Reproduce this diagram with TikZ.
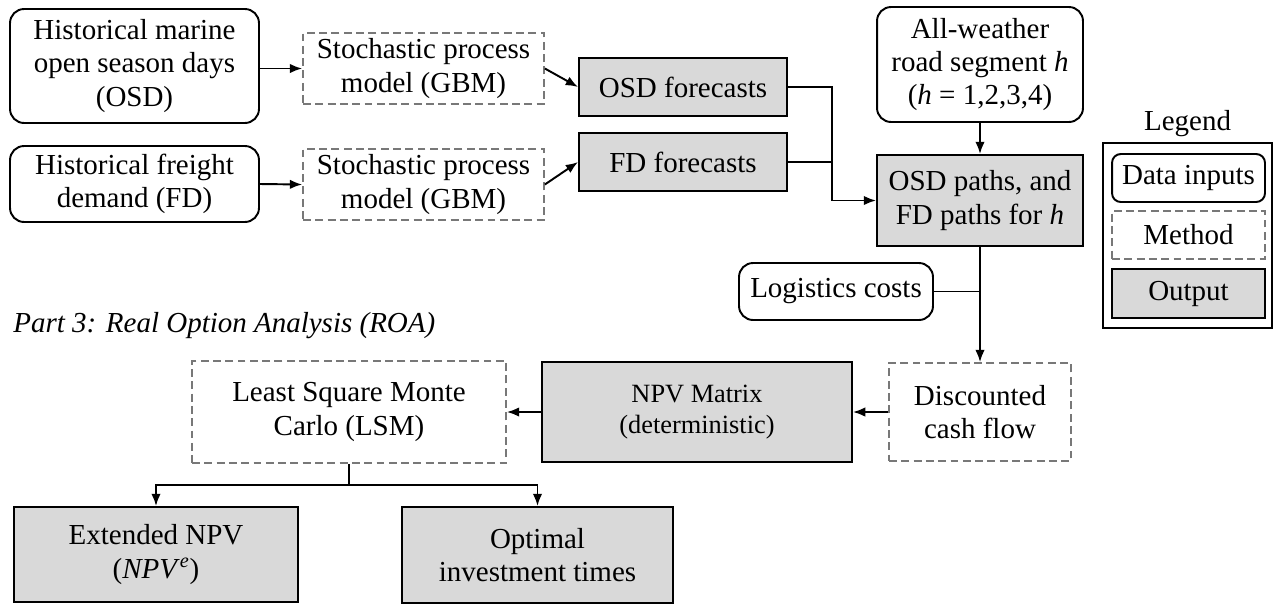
\documentclass[tikz,border=0pt]{standalone}
\usepackage{fontspec}
\setmainfont{Liberation Serif}
\usepackage{tikz}
\usetikzlibrary{arrows.meta,positioning}
\definecolor{cOut}{RGB}{217,217,217}
\definecolor{cMeth}{RGB}{120,120,120}
\newcommand{\bodyfont}{\fontsize{16.5}{19}\selectfont}

\begin{document}
\begin{tikzpicture}[x=0.02cm,y=-0.02cm,
  >={Latex[length=7pt,width=5.4pt]},
  every node/.style={font=\bodyfont,align=center,inner sep=0pt},
  inbox/.style={draw,line width=1.1pt,rounded corners=8pt},
  methbox/.style={draw=cMeth,line width=1pt,dash pattern=on 4.5pt off 2.5pt},
  outbox/.style={draw,line width=1.1pt,fill=cOut},
  link/.style={line width=1.1pt}]
  \useasboundingbox (0,0) rectangle (1273,603);
  % inputs and GBM models
  \node[inbox,minimum width=4.98cm,minimum height=2.28cm] (hosd) at (134.5,66)
    {Historical marine\\open season days\\(OSD)};
  \node[inbox,minimum width=4.98cm,minimum height=1.52cm] (hfd) at (134.5,184)
    {Historical freight\\demand (FD)};
  \node[methbox,minimum width=4.82cm,minimum height=1.42cm] (gbm1) at (423.5,68.5)
    {Stochastic process\\model (GBM)};
  \node[methbox,minimum width=4.82cm,minimum height=1.42cm] (gbm2) at (423.5,184.5)
    {Stochastic process\\model (GBM)};
  \node[outbox,minimum width=4.16cm,minimum height=1.16cm] (osdf) at (683,87) {OSD forecasts};
  \node[outbox,minimum width=4.16cm,minimum height=1.16cm] (fdf) at (683,162) {FD forecasts};
  % road segments and paths
  \node[inbox,minimum width=4.12cm,minimum height=2.30cm] (road) at (980,64.5)
    {All-weather\\road segment \textit{h}\\(\textit{h} = 1,2,3,4)};
  \node[outbox,minimum width=4.12cm,minimum height=1.82cm] (paths) at (980,200.5)
    {OSD paths, and\\FD paths for \textit{h}};
  \node[inbox,minimum width=3.88cm,minimum height=1.14cm] (logi) at (836,291.5) {Logistics costs};
  \node[methbox,minimum width=3.64cm,minimum height=1.96cm] (dcf) at (980,412)
    {Discounted\\cash flow};
  % part 3
  \node[anchor=base west,font=\bodyfont\itshape] (part3) at (13,332)
    {Part 3: Real Option Analysis (ROA)};
  \node[outbox,minimum width=6.20cm,minimum height=2.00cm,font=\fontsize{15}{18}\selectfont] (npv) at (697,412)
    {NPV Matrix\\(deterministic)};
  \node[methbox,minimum width=6.28cm,minimum height=2.04cm] (lsm) at (349,412)
    {Least Square Monte\\Carlo (LSM)};
  \node[outbox,minimum width=5.68cm,minimum height=1.90cm] (enpv) at (156,554.5)
    {Extended NPV\\(\textit{NPV}\textsuperscript{\textit{e}})};
  \node[outbox,minimum width=5.42cm,minimum height=1.92cm] (opt) at (537.5,555)
    {Optimal\\investment times};
  % legend
  \node[draw,line width=1.1pt,minimum width=3.38cm,minimum height=3.70cm] (legbox) at (1187.5,235.5) {};
  \node[above=3pt of legbox] (legtitle) {Legend};
  \node[inbox,rounded corners=5pt,minimum width=3.06cm,minimum height=0.96cm] (legin) at (1188.5,178) {Data inputs};
  \node[methbox,minimum width=3.06cm,minimum height=0.96cm] (legmeth) at (1188.5,235) {Method};
  \node[outbox,minimum width=3.06cm,minimum height=0.98cm] (legout) at (1188.5,293.5) {Output};
  % connectors
  \coordinate (mg) at (832,200.5);
  \coordinate (sp) at (349,485);
  \draw[link,->] (hosd.east |- gbm1.west) -- (gbm1.west);
  \draw[link,->] (hfd.east) -- (gbm2.west);
  \draw[link,->] (gbm1.east) -- (osdf.west);
  \draw[link,->] (gbm2.east) -- (fdf.west);
  \draw[link,->] (osdf.east) -| (mg) -- (paths.west);
  \draw[link] (fdf.east) -- (fdf.east -| mg);
  \draw[link,->] (road.south) -- (paths.north);
  \draw[link] (logi.east) -- (logi.east -| paths.south);
  \draw[link,->] (paths.south) -- (dcf.north);
  \draw[link,->] (dcf.west) -- (npv.east);
  \draw[link,->] (npv.west) -- (lsm.east);
  \draw[link] (lsm.south) -- (sp);
  \draw[link,->] (sp) -| (enpv.north);
  \draw[link,->] (sp) -| (opt.north);
\end{tikzpicture}
\end{document}
